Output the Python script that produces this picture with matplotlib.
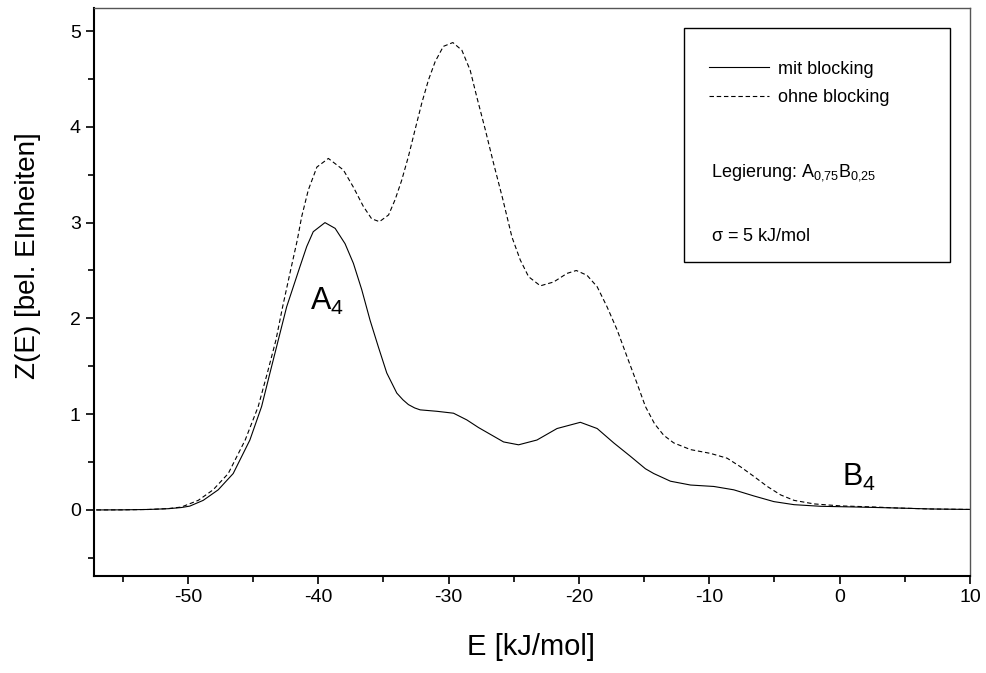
import numpy as np
import matplotlib.pyplot as plt
from matplotlib.patches import Rectangle
from matplotlib.ticker import MultipleLocator

plt.rcParams['font.family'] = ['Liberation Sans', 'DejaVu Sans']
plt.rcParams['mathtext.fontset'] = 'custom'
plt.rcParams['mathtext.rm'] = 'Liberation Sans'
plt.rcParams['mathtext.it'] = 'Liberation Sans'
plt.rcParams['axes.unicode_minus'] = False

# mit blocking (solid)
E_mit = [-57, -55, -53, -51.5, -50.5, -49.85, -48.82, -47.67, -46.52, -45.24,
         -44.34, -43.7, -43.06, -42.42, -41.4, -40.88, -40.38, -39.48, -38.7,
         -37.94, -37.3, -36.66, -36.02, -35.38, -34.74, -33.97, -33.5, -33.08,
         -32.6, -32.18, -30.9, -29.62, -28.6, -27.7, -27.06, -25.78, -24.63,
         -23.22, -21.68, -19.89, -18.6, -17.33, -16.05, -14.9, -14.26, -12.98,
         -11.44, -9.65, -8.12, -6.58, -5.05, -3.5, -1.46, 1.1, 4.43, 7, 10]
Z_mit = [0.0, 0.001, 0.005, 0.013, 0.025, 0.04, 0.10, 0.21, 0.38, 0.73,
         1.08, 1.43, 1.775, 2.12, 2.54, 2.75, 2.905, 3.00, 2.94,
         2.78, 2.575, 2.30, 1.98, 1.70, 1.43, 1.22, 1.15, 1.10,
         1.065, 1.045, 1.03, 1.01, 0.94, 0.86, 0.81, 0.71, 0.68,
         0.73, 0.85, 0.915, 0.85, 0.70, 0.56, 0.43, 0.38, 0.30,
         0.26, 0.245, 0.21, 0.146, 0.087, 0.055, 0.038, 0.031, 0.02, 0.01, 0.005]

# ohne blocking (dashed)
E_ohne = [-57, -55, -53, -51.5, -50.5, -49.2, -48.06, -46.9, -45.6, -44.6,
          -43.9, -43.24, -42.73, -42.17, -41.6, -41.27, -40.76, -40.1, -39.22,
          -38.07, -37.3, -36.54, -35.9, -35.3, -34.6, -34.1, -33.6, -33.08,
          -32.57, -32.05, -31.54, -31.03, -30.4, -29.67, -28.98, -28.34, -27.83,
          -27.2, -26.55, -25.85, -25.14, -24.5, -23.86, -22.96, -21.94, -20.91,
          -20.2, -19.38, -18.6, -17.84, -17.07, -16.31, -15.54, -14.9, -14.2,
          -13.5, -12.73, -11.44, -9.9, -8.63, -7.6, -6.58, -5.55, -4.53, -3.5,
          -1.97, 0.08, 2.63, 4.43, 7, 10]
Z_ohne = [0.0, 0.001, 0.005, 0.014, 0.03, 0.10, 0.21, 0.38, 0.73, 1.08,
          1.43, 1.775, 2.12, 2.47, 2.82, 3.06, 3.34, 3.58, 3.67,
          3.55, 3.37, 3.17, 3.04, 3.01, 3.08, 3.24, 3.44, 3.69,
          3.97, 4.25, 4.49, 4.68, 4.84, 4.88, 4.80, 4.59, 4.31,
          3.98, 3.62, 3.25, 2.85, 2.61, 2.435, 2.34, 2.38, 2.47,
          2.50, 2.45, 2.33, 2.12, 1.88, 1.60, 1.32, 1.08, 0.90,
          0.78, 0.70, 0.63, 0.59, 0.54, 0.45, 0.35, 0.245, 0.157, 0.10,
          0.063, 0.042, 0.031, 0.02, 0.01, 0.005]

fig = plt.figure(figsize=(9.87, 6.73), dpi=100)
ax = fig.add_axes([0.0952, 0.1441, 0.8876, 0.8439])

ax.plot(E_mit, Z_mit, color='black', lw=0.8, label='mit blocking')
ax.plot(E_ohne, Z_ohne, color='black', lw=0.8, linestyle=(0, (4, 2.5)),
        label='ohne blocking')

ax.set_xlim(-57.2, 10)
ax.set_ylim(-0.69, 5.24)
ax.xaxis.set_major_locator(MultipleLocator(10))
ax.xaxis.set_minor_locator(MultipleLocator(5))
ax.yaxis.set_major_locator(MultipleLocator(1))
ax.yaxis.set_minor_locator(MultipleLocator(0.5))
ax.tick_params(which='major', direction='out', length=6, width=1.2, labelsize=14)
ax.tick_params(which='minor', direction='out', length=4, width=1.2)

for s in ['left', 'bottom']:
    ax.spines[s].set_linewidth(1.5)
for s in ['top', 'right']:
    ax.spines[s].set_linewidth(1.0)
    ax.spines[s].set_color('#555555')

ax.set_xlabel('E [kJ/mol]', fontsize=21)
ax.set_ylabel('Z(E) [bel. EInheiten]', fontsize=20)
ax.xaxis.set_label_coords(0.499, -0.100)
ax.yaxis.set_label_coords(-0.060, 0.565)

# legend box
ax.add_patch(Rectangle((0.6735, 0.553), 0.3035, 0.412, transform=ax.transAxes,
                       fill=False, edgecolor='black', lw=1.0, zorder=3))
ax.legend(loc='center left', bbox_to_anchor=(0.692, 0.867), frameon=False,
          fontsize=13, handlelength=3.3, handletextpad=0.5, labelspacing=0.65,
          borderpad=0)
ax.text(0.704, 0.711, r'Legierung: A$_{0{,}75}$B$_{0{,}25}$', transform=ax.transAxes,
        fontsize=13, va='center', ha='left')
ax.text(0.704, 0.597, r'$\sigma$ = 5 kJ/mol', transform=ax.transAxes,
        fontsize=13, va='center', ha='left')

ax.text(-40.6, 2.09, r'A$_4$', fontsize=22, ha='left', va='baseline')
ax.text(0.2, 0.25, r'B$_4$', fontsize=22, ha='left', va='baseline')

fig.savefig('out.png', dpi=100)
